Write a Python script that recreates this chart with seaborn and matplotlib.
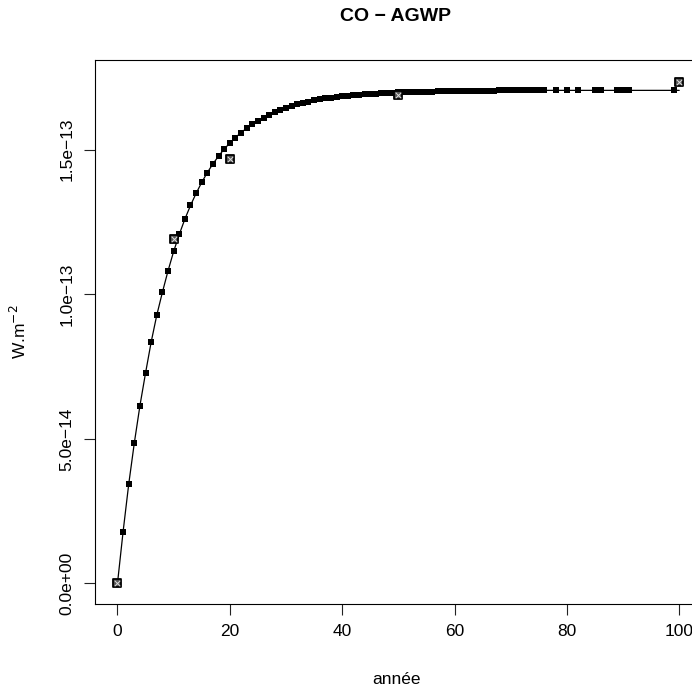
import pandas as pd
import matplotlib
matplotlib.use("Agg")
import matplotlib.pyplot as plt
import seaborn as sns

# Values (W.m-2, in units of 1e-13)
years = list(range(0, 77)) + [78, 80, 82, 85, 86, 89, 90, 91, 99]
agwp = [
    0.000, 0.179, 0.343, 0.486, 0.615, 0.728, 0.835, 0.928, 1.007, 1.081,
    1.148, 1.207, 1.260, 1.307, 1.349, 1.387, 1.421, 1.451, 1.478, 1.502,
    1.523, 1.542, 1.559, 1.574, 1.588, 1.600, 1.611, 1.621, 1.630, 1.638,
    1.645, 1.651, 1.657, 1.662, 1.666, 1.670, 1.674, 1.677, 1.680, 1.682,
    1.685, 1.687, 1.689, 1.690, 1.692, 1.693, 1.694, 1.695, 1.696, 1.697,
    1.698, 1.699, 1.699, 1.700, 1.700, 1.701, 1.701, 1.702, 1.702, 1.702,
    1.703, 1.703, 1.703, 1.704, 1.704, 1.704, 1.704, 1.704, 1.705, 1.705,
    1.705, 1.705, 1.705, 1.705, 1.705, 1.705, 1.705,
    1.705, 1.705, 1.705, 1.705, 1.705, 1.705, 1.705, 1.705, 1.705,
]
# curve runs on to year 100
line_years = years + [100]
line_agwp = agwp + [1.705]

# highlighted reference points (boxed crosses)
ref_years = [0, 10, 20, 50, 100]
ref_agwp = [0.000, 1.190, 1.466, 1.689, 1.734]

x_ticks = [0, 20, 40, 60, 80, 100]
y_ticks = [0.0, 0.5, 1.0, 1.5]
y_tick_labels = ["0.0e+00", "5.0e\u221214", "1.0e\u221213", "1.5e\u221213"]

df_pts = pd.DataFrame({"annee": years, "agwp": agwp})
df_line = pd.DataFrame({"annee": line_years, "agwp": line_agwp})
df_ref = pd.DataFrame({"annee": ref_years, "agwp": ref_agwp})

sns.set_style("ticks")
plt.rcParams["font.family"] = ["Liberation Sans", "DejaVu Sans"]
plt.rcParams["text.color"] = "black"

fig = plt.figure(figsize=(6.92, 6.89), dpi=100)
ax = fig.add_axes([95 / 692, 1 - 603.6 / 689, 606.7 / 692, 543.6 / 689])

sns.lineplot(data=df_line, x="annee", y="agwp", ax=ax, color="black",
             linewidth=0.9, estimator=None, sort=False)
sns.scatterplot(data=df_pts, x="annee", y="agwp", ax=ax, marker="s",
                s=14, color="black", linewidth=0, zorder=3)
sns.scatterplot(data=df_ref, x="annee", y="agwp", ax=ax, marker="s",
                s=32, facecolor="#555555", edgecolor="black", linewidth=1.3, zorder=4)
sns.scatterplot(data=df_ref, x="annee", y="agwp", ax=ax, marker="x",
                s=16, color="#dddddd", linewidth=0.7, zorder=5)

ax.set_xlim(-4, 104)
ax.set_ylim(-0.0696, 1.81)
ax.set_xticks(x_ticks)
ax.set_yticks(y_ticks)
ax.set_yticklabels(y_tick_labels, rotation=90, va="center")
ax.set_xlabel("")
ax.set_ylabel("")

for sp in ax.spines.values():
    sp.set_visible(True)
    sp.set_linewidth(0.8)
    sp.set_color("black")
ax.tick_params(axis="both", direction="out", length=8, width=0.8,
               color="#222222", labelsize=12.5, labelcolor="black")
ax.tick_params(axis="x", pad=7)
ax.tick_params(axis="y", pad=7)

fig.text(396 / 692, 1 - 16.5 / 689, "CO \u2212 AGWP", ha="center", va="center",
         fontsize=14, fontweight="bold", color="black")
fig.text(397 / 692, 1 - 680 / 689, "année", ha="center", va="center",
         fontsize=12.5, color="black")
fig.text(19 / 692, 1 - 332 / 689, r"W.m$^{-2}$", ha="center", va="center",
         rotation=90, fontsize=12.5, color="black")

fig.savefig("out.png", dpi=100)
